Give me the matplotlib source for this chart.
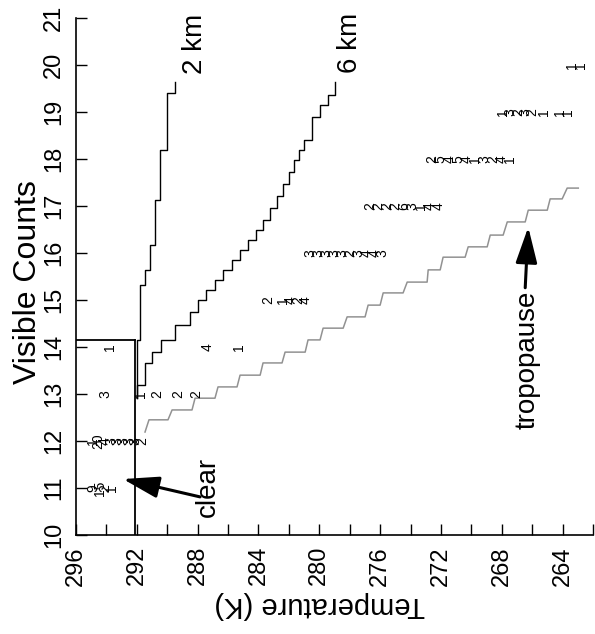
import numpy as np
import matplotlib.pyplot as plt

plt.rcParams['font.family'] = ['Liberation Sans', 'DejaVu Sans']

# staircase corners of the 2 km and 6 km cloud curves (temperature K, visible counts)
km2_temp = [291.99, 291.79, 291.46, 291.13, 290.80, 290.47, 290.01, 289.47, 289.47]
km2_counts = [12.91, 14.15, 15.32, 15.64, 16.17, 17.13, 18.19, 19.40, 19.64]

km6_temp = [291.99, 291.46, 291.00, 290.41, 289.49, 288.50, 287.97, 287.45, 286.86,
            286.33, 285.74, 285.21, 284.68, 284.16, 283.70, 283.24, 282.78, 282.38,
            281.99, 281.66, 281.33, 281.00, 280.47, 279.95, 279.42, 278.96, 278.96]
km6_counts = [12.91, 13.19, 13.66, 13.89, 14.15, 14.47, 14.74, 15.00, 15.21,
              15.43, 15.64, 15.85, 16.06, 16.28, 16.49, 16.70, 16.96, 17.21,
              17.47, 17.72, 17.98, 18.19, 18.40, 18.89, 19.15, 19.36, 19.64]

# tropopause curve
trop_temp = [291.46, 291.20, 289.95, 289.68, 288.37, 288.17, 286.86, 286.66, 285.41,
             285.21, 283.89, 283.70, 282.45, 282.25, 280.93, 280.74, 279.95, 279.75,
             278.43, 278.17, 276.99, 276.79, 276.00, 275.80, 274.49, 274.22, 272.91,
             272.84, 272.05, 271.86, 270.41, 270.21, 268.96, 268.76, 267.91, 267.64,
             266.46, 266.26, 265.01, 264.82, 264.03, 263.70, 262.97]
trop_counts = [12.19, 12.45, 12.45, 12.66, 12.66, 12.91, 12.91, 13.15, 13.15,
               13.40, 13.40, 13.66, 13.66, 13.89, 13.89, 14.15, 14.15, 14.40,
               14.40, 14.64, 14.64, 14.89, 14.89, 15.15, 15.15, 15.38, 15.38,
               15.64, 15.64, 15.91, 15.91, 16.13, 16.13, 16.38, 16.38, 16.66,
               16.66, 16.91, 16.91, 17.15, 17.15, 17.38, 17.38]

# clear-sky thresholds
clear_temp = 292.1
clear_counts = 14.15

# number of pixels found in each temperature / count bin
bin_temp = [294.88, 294.42, 294.09, 293.63,
            294.88, 294.55, 294.09, 293.70, 293.30, 292.91, 292.51, 292.12, 291.66,
            294.09, 291.72, 290.67, 289.29, 288.11,
            293.76, 287.32, 285.28,
            283.37, 282.38, 281.86, 281.39, 280.87,
            280.61, 280.08, 279.55, 279.03, 278.50, 277.97, 277.45, 276.92, 276.39, 275.87,
            276.66, 276.10, 275.54, 274.98, 274.42, 273.86, 273.30, 272.74, 272.18,
            272.58, 272.01, 271.45, 270.87, 270.30, 269.73, 269.16, 268.59, 268.02, 267.45,
            267.91, 267.45, 266.92, 266.46, 266.00, 265.21, 264.16, 263.63,
            263.37, 262.78]
bin_counts = [11] * 4 + [12] * 9 + [13] * 5 + [14] * 3 + [15] * 5 + [16] * 10 \
    + [17] * 9 + [18] * 10 + [19] * 8 + [20] * 2
bin_labels = ["9", "15", "2", "1",
              "1", "20", "4", "3", "3", "3", "3", "3", "2",
              "3", "1", "2", "2", "2",
              "1", "4", "1",
              "2", "1", "4", "2", "4",
              "3", "3", "3", "3", "3", "2", "3", "4", "4", "3",
              "2", "2", "2", "2", "6", "3", "1", "4", "4",
              "2", "5", "4", "5", "4", "1", "3", "2", "4", "1",
              "1", "3", "2", "3", "2", "1", "1", "1",
              "1", "1"]

fig = plt.figure(figsize=(5.95, 6.34), dpi=100)
ax = fig.add_axes([0.1277, 0.1562, 0.869, 0.8155])

ax.plot(km2_temp, km2_counts, color='black', lw=1.0, drawstyle='steps-pre')
ax.plot(km6_temp, km6_counts, color='black', lw=1.0, drawstyle='steps-pre')
ax.plot(trop_temp, trop_counts, color='#929292', lw=1.1)

# clear box
ax.plot([clear_temp, clear_temp], [10, clear_counts], color='black', lw=1.3)
ax.plot([296, clear_temp], [clear_counts, clear_counts], color='black', lw=1.3)

for t, c, s in zip(bin_temp, bin_counts, bin_labels):
    ax.text(t, c, s, rotation=90, ha='center', va='center', fontsize=10)

ax.text(288.17, 20.45, "2 km", rotation=90, ha='center', va='center', fontsize=20)
ax.text(277.97, 20.47, "6 km", rotation=90, ha='center', va='center', fontsize=20)

arrow = dict(arrowstyle='-|>,head_length=1.0,head_width=0.3', mutation_scale=22,
             color='black', lw=2.2, shrinkA=0, shrinkB=0)
ax.annotate("", xy=(292.91, 11.19), xytext=(287.84, 10.81), arrowprops=arrow)
ax.text(287.35, 11.02, "clear", rotation=90, ha='center', va='center', fontsize=20)
ax.annotate("", xy=(266.26, 16.55), xytext=(266.46, 15.26), arrowprops=arrow)
ax.text(266.3, 13.72, "tropopause", rotation=90, ha='center', va='center', fontsize=20)

ax.set_xlim(296, 262)
ax.set_ylim(10, 21)
xt = np.arange(296, 261, -2)
ax.set_xticks(xt)
ax.set_xticklabels([str(t) if (296 - t) % 4 == 0 else '' for t in xt], rotation=90)
ax.set_yticks(np.arange(10, 22, 1))
ax.set_yticklabels([str(c) for c in range(10, 22)], rotation=90, va='center')
ax.tick_params(direction='in', length=8, width=1, labelsize=17, pad=8)

ax.spines['top'].set_visible(False)
ax.spines['right'].set_visible(False)
ax.spines['left'].set_linewidth(1.2)
ax.spines['bottom'].set_linewidth(1.2)

ax.set_xlabel("Temperature (K)", rotation=180, fontsize=21, va='center', ha='center')
ax.xaxis.set_label_coords(0.472, -0.135)
ax.set_ylabel("Visible Counts", fontsize=23, va='center', ha='center')
ax.yaxis.set_label_coords(-0.093, 0.49)

fig.savefig("out.png", dpi=100)
